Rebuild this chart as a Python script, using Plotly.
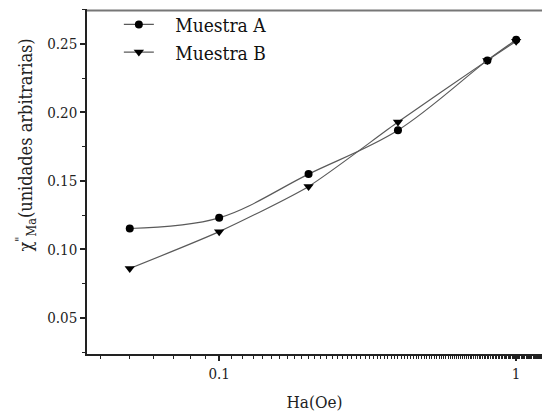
import plotly.graph_objects as go

# Field values (Oe) and out-of-phase susceptibility for each sample
ha = [0.05, 0.1, 0.2, 0.4, 0.8, 1.0]
chi_a = [0.1153, 0.1231, 0.155, 0.187, 0.238, 0.253]
chi_b = [0.0861, 0.113, 0.146, 0.193, 0.238, 0.252]

x_ticks = [0.1, 1]
x_tick_text = ["0.1", "1"]
y_ticks = [0.05, 0.10, 0.15, 0.20, 0.25]
y_tick_text = ["0.05", "0.10", "0.15", "0.20", "0.25"]

serif = "DejaVu Serif Condensed, DejaVu Serif, serif"
line_col = "#5a5a5a"
nb = "\u00a0\u00a0\u00a0"

fig = go.Figure()
fig.add_trace(go.Scatter(
    x=ha, y=chi_a, name=nb + "Muestra A", mode="lines+markers",
    line=dict(color=line_col, width=1.2, shape="spline", smoothing=1.0),
    marker=dict(symbol="circle", size=8, color="black"),
))
fig.add_trace(go.Scatter(
    x=ha, y=chi_b, name=nb + "Muestra B", mode="lines+markers",
    line=dict(color=line_col, width=1.2, shape="spline", smoothing=0.6),
    marker=dict(symbol="triangle-down", size=9, color="black"),
))

# top border of the frame
fig.add_shape(type="line", xref="x domain", yref="y domain", x0=0, x1=1, y0=0.996, y1=0.996,
              line=dict(color="#777777", width=2), layer="above")

# y-axis title
fig.add_annotation(
    text='χ<sup>"</sup><sub>Ma</sub>(unidades arbitrarias)',
    xref="paper", yref="paper", x=-0.135, y=0.606,
    xanchor="center", yanchor="middle", textangle=-90, showarrow=False,
    font=dict(size=18, family=serif, color="#222222"),
)

fig.update_layout(
    width=542, height=412,
    margin=dict(l=87, r=0, t=9, b=58),
    paper_bgcolor="white", plot_bgcolor="white",
    font=dict(family=serif, color="#222222", size=15),
    showlegend=True,
    legend=dict(x=0.07, y=1.01, xanchor="left", yanchor="top",
                bgcolor="rgba(0,0,0,0)", font=dict(size=19, family=serif, color="#111"),
                tracegroupgap=0),
)
fig.update_xaxes(
    type="log", range=[-1.445, 0.087],
    tickvals=x_ticks, ticktext=x_tick_text,
    ticks="outside", ticklen=5, tickwidth=1.5, tickcolor="#222",
    showline=True, linecolor="#222", linewidth=1.5,
    showgrid=False, zeroline=False,
    minor=dict(ticks="outside", ticklen=3, tickwidth=1.2, tickcolor="#222",
               showgrid=False),
    title=dict(text="Ha(Oe)", font=dict(size=17, family=serif), standoff=14),
    tickfont=dict(size=15, family=serif),
)
fig.update_yaxes(
    range=[0.0237, 0.2755],
    tickvals=y_ticks, ticktext=y_tick_text,
    ticks="outside", ticklen=5, tickwidth=1.5, tickcolor="#222",
    showline=True, linecolor="#222", linewidth=1.5,
    showgrid=False, zeroline=False,
    minor=dict(ticks="outside", ticklen=3, tickwidth=1.2, tickcolor="#222",
               dtick=0.025, tick0=0.025, showgrid=False),
    tickfont=dict(size=15, family=serif),
)

fig.write_html("out.html")
